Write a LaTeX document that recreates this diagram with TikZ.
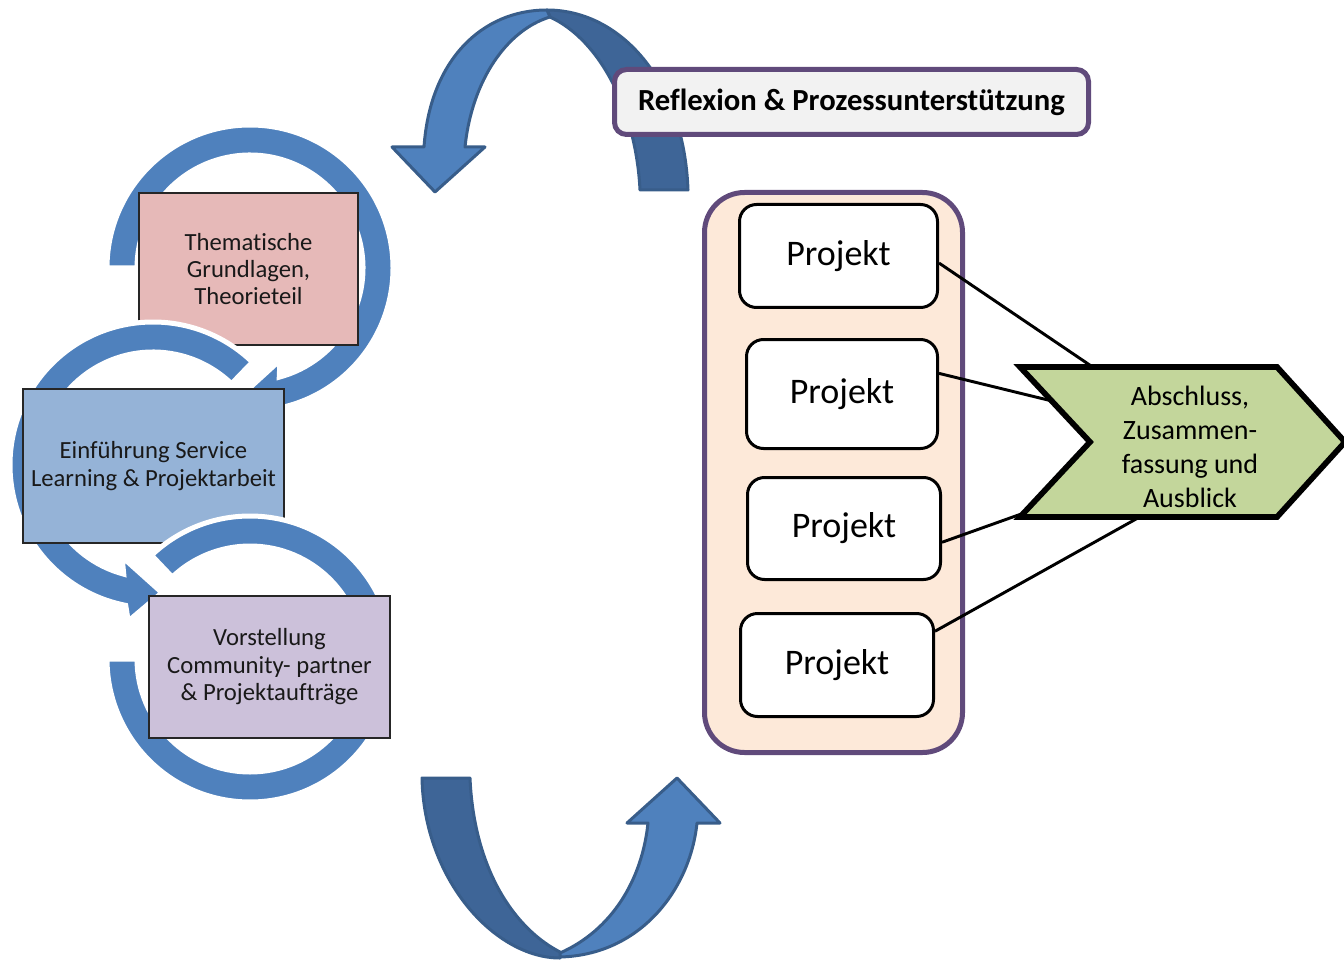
\documentclass[tikz,border=0pt]{standalone}
\usepackage{fontspec}
\setmainfont[Ligatures=NoCommon]{Carlito}
\usetikzlibrary{calc}
\definecolor{ringblue}{HTML}{4F81BD}
\definecolor{arrowlight}{HTML}{4F81BD}
\definecolor{arrowdark}{HTML}{3E6597}
\definecolor{arrowline}{HTML}{385D8A}
\definecolor{pinkbox}{HTML}{E6B9B8}
\definecolor{bluebox}{HTML}{95B3D7}
\definecolor{lilacbox}{HTML}{CCC1DA}
\definecolor{purpleb}{HTML}{604A7B}
\definecolor{peach}{HTML}{FDE9D9}
\definecolor{lightgray}{HTML}{F2F2F2}
\definecolor{chevgreen}{HTML}{C3D69B}
\begin{document}
\begin{tikzpicture}[x=0.75pt,y=-0.75pt,
  ring/.style={fill=ringblue, draw=white, line width=3.75pt},
  leftbox/.style={draw=black!85, line width=1.5pt, inner sep=0pt, align=center,
    font=\fontsize{18.5}{20.6}\selectfont, text=black!90},
  projbox/.style={draw=black, line width=2.25pt, fill=white, rounded corners=12.75pt,
    inner sep=0pt, font=\fontsize{27}{32}\selectfont},
  link/.style={draw=black, line width=2.2pt},
  arrlight/.style={fill=arrowlight, draw=arrowline, line width=2.25pt, line join=round},
  arrdark/.style={fill=arrowdark, draw=arrowline, line width=2.25pt, line join=round},
]
\useasboundingbox (0,0) rectangle (1344,962);

% ---------- left circular process ----------
\coordinate (c1) at (250,268);
\coordinate (c2) at (153,465);
\coordinate (c3) at (250,659);

\path[ring] ($(c1)+(-180:143)$) arc[start angle=-180,end angle=79,radius=143]
  -- ($(c1)+(81.6:158)$) -- ($(c1)+(94:128)$) -- ($(c1)+(72:97)$)
  -- ($(c1)+(75:113)$) arc[start angle=75,end angle=-180,radius=113] -- cycle;
\node[leftbox, fill=pinkbox, minimum width=164.25pt, minimum height=114pt] (b1) at (248.5,269)
  {Thematische\\Grundlagen,\\Theorieteil};

\path[ring] ($(c2)+(-46:143)$) arc[start angle=-46,end angle=-259,radius=143]
  -- ($(c2)+(-261:158)$) -- ($(c2)+(-274:128)$) -- ($(c2)+(-251.4:97)$)
  -- ($(c2)+(-255:113)$) arc[start angle=-255,end angle=-46,radius=113] -- cycle;
\node[leftbox, fill=bluebox, minimum width=195.75pt, minimum height=115.5pt] (b2) at (153.5,466)
  {Einführung Service\\Learning \& Projektarbeit};

\path[ring] ($(c3)+(-133.5:143)$) arc[start angle=-133.5,end angle=180,radius=143]
  -- ($(c3)+(180:113)$) arc[start angle=180,end angle=-133.5,radius=113] -- cycle;
\node[leftbox, fill=lilacbox, minimum width=180.75pt, minimum height=106.5pt] (b3) at (269.5,667)
  {Vorstellung\\Community- partner\\\& Projektaufträge};

% ---------- top curved arrow ----------
\path[arrdark] (547,10) .. controls (620,10) and (684,80) .. (688,190)
  -- (640,190) .. controls (636,110) and (600,40) .. (550,17) -- cycle;
\path[arrlight] (392,147) -- (435,192) -- (485,147) -- (465,147)
  .. controls (472,80) and (507,30) .. (550,17) -- (547,10)
  .. controls (482,10) and (430,60) .. (424,147) -- cycle;

% ---------- bottom curved arrow ----------
\path[arrdark] (422,778) -- (470,778) .. controls (474,870) and (515,930) .. (562,953)
  -- (560,958) .. controls (495,958) and (424,880) .. (422,778) -- cycle;
\path[arrlight] (560,957) .. controls (640,955) and (690,890) .. (697,823)
  -- (720,823) -- (677,778) -- (627,823) -- (648,823)
  .. controls (642,880) and (612,930) .. (560,953) -- cycle;

% ---------- reflexion label ----------
\node[draw=purpleb, fill=lightgray, line width=3.75pt, rounded corners=9pt,
  minimum width=355.5pt, minimum height=48.75pt, inner sep=0pt,
  font=\bfseries\fontsize{23}{27}\selectfont] (refl) at (851.5,102)
  {Reflexion \& Prozessunterstützung};

% ---------- projects ----------
\node[draw=purpleb, fill=peach, line width=3.75pt, rounded corners=30pt,
  minimum width=193.5pt, minimum height=420pt] (cont) at (833.5,472.5) {};
\node[projbox, minimum width=148.5pt, minimum height=77.25pt] (p1) at (838.5,256) {Projekt};
\node[projbox, minimum width=143.25pt, minimum height=81.75pt] (p2) at (842,394) {Projekt};
\node[projbox, minimum width=144.75pt, minimum height=76.5pt] (p3) at (844,528.5) {Projekt};
\node[projbox, minimum width=144.75pt, minimum height=77.25pt] (p4) at (837,665) {Projekt};

% ---------- chevron ----------
\coordinate (k1) at (1100,372);
\coordinate (k2) at (1052,401);
\coordinate (k3) at (1024,513);
\coordinate (k4) at (1145,514);
\draw[link] (p1.-4) -- (k1);
\draw[link] (p2.12) -- (k2);
\draw[link] (p3.-8) -- (k3);
\draw[link] (p4.19) -- (k4);
\draw[fill=chevgreen, draw=black, line width=4.3pt, line join=miter]
  (1020,367) -- (1277,367) -- (1345,442) -- (1277,517) -- (1020,517) -- (1090,442) -- cycle;
\node[align=center, inner sep=0pt, font=\fontsize{21}{25.5}\selectfont] (abs) at (1190,447)
  {Abschluss,\\Zusammen-\\fassung und\\Ausblick};
\end{tikzpicture}
\end{document}
